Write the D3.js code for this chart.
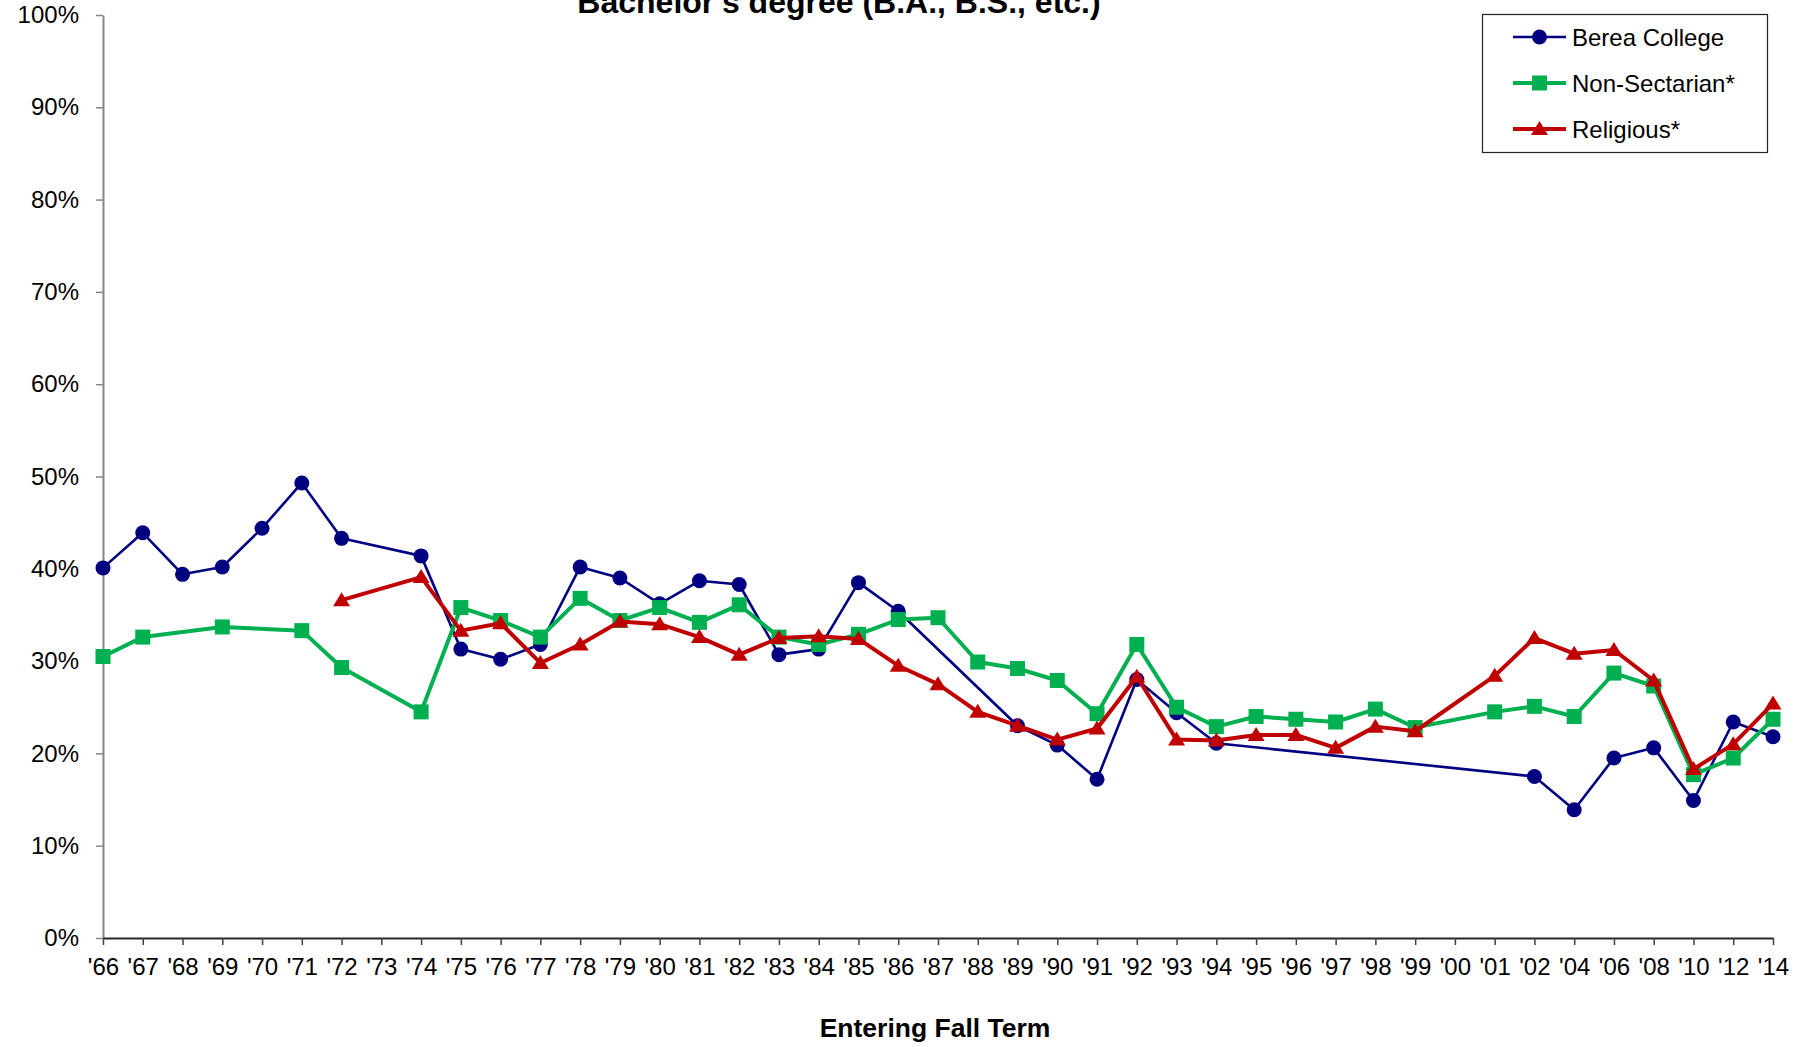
<!DOCTYPE html>
<html>
<head>
<meta charset="utf-8">
<script src="https://cdn.jsdelivr.net/npm/d3@7"></script>
<style>
  html, body { margin: 0; padding: 0; background: #fff; }
  svg { display: block; font-family: "Liberation Sans", Arial, sans-serif; }
</style>
</head>
<body>
<svg id="chart" width="1810" height="1047"></svg>
<script>
const categories = ["'66","'67","'68","'69","'70","'71","'72","'73","'74","'75","'76","'77","'78","'79","'80","'81","'82","'83","'84","'85","'86","'87","'88","'89","'90","'91","'92","'93","'94","'95","'96","'97","'98","'99","'00","'01","'02","'04","'06","'08","'10","'12","'14"];

const bereaCollege = [40.1,43.9,39.4,40.2,44.4,49.3,43.3,null,41.4,31.3,30.2,31.8,40.2,39.0,36.2,38.7,38.3,30.7,31.3,38.5,35.4,null,null,23.0,20.9,17.2,28.0,24.4,21.1,null,null,null,null,null,null,null,17.5,13.9,19.5,20.6,14.9,23.4,21.8];

const nonSectarian = [30.5,32.6,null,33.7,null,33.3,29.3,null,24.5,35.8,34.4,32.6,36.8,34.4,35.8,34.2,36.1,32.6,31.8,32.9,34.5,34.7,29.9,29.2,27.9,24.3,31.8,25.0,22.9,24.0,23.7,23.4,24.8,22.8,null,24.5,25.1,24.0,28.7,27.3,17.7,19.5,23.7];

const religious = [null,null,null,null,null,null,36.6,null,39.1,33.3,34.1,29.8,31.8,34.3,34.0,32.6,30.7,32.5,32.7,32.4,29.5,27.5,24.5,23.0,21.5,22.7,28.3,21.5,21.4,22.0,22.0,20.6,22.9,22.4,null,28.4,32.5,30.8,31.2,27.9,18.3,21.0,25.4];

const seriesNames = ["Berea College","Non-Sectarian*","Religious*"];
const seriesColors = ["#000080","#00B050","#C00000"];
const yTicks = [0,10,20,30,40,50,60,70,80,90,100];

const titleText = "Bachelor's degree (B.A., B.S., etc.)";
const xTitleText = "Entering Fall Term";

const svg = d3.select("#chart");
const x = d3.scalePoint().domain(categories).range([103, 1773]);
const y = d3.scaleLinear().domain([0, 100]).range([938, 15]);

// Y axis
const yAxis = svg.append("g")
  .attr("transform", "translate(103,0)")
  .call(d3.axisLeft(y).tickValues(yTicks).tickFormat(d => d + "%").tickSize(7).tickSizeOuter(0).tickPadding(17));
yAxis.select(".domain").attr("stroke", "#868686").attr("stroke-width", 2);
yAxis.selectAll(".tick line").attr("stroke", "#868686").attr("stroke-width", 1.5);
yAxis.selectAll(".tick text").attr("font-size", 24).attr("fill", "#000")
  .attr("font-family", "Liberation Sans, Arial, sans-serif");

// X axis
const xAxis = svg.append("g")
  .attr("transform", "translate(0,938)")
  .call(d3.axisBottom(x).tickSize(7).tickSizeOuter(0).tickPadding(13));
xAxis.select(".domain").attr("stroke", "#262626").attr("stroke-width", 2);
xAxis.selectAll(".tick line").attr("stroke", "#404040").attr("stroke-width", 1.5);
xAxis.selectAll(".tick text").attr("font-size", 24).attr("fill", "#000")
  .attr("font-family", "Liberation Sans, Arial, sans-serif");

// Titles
svg.append("text").attr("x", 839).attr("y", 13).attr("text-anchor", "middle")
  .attr("font-size", 32).attr("font-weight", "bold").attr("fill", "#000").text(titleText);
svg.append("text").attr("x", 935).attr("y", 1037).attr("text-anchor", "middle")
  .attr("font-size", 26.5).attr("font-weight", "bold").attr("fill", "#000").text(xTitleText);

// Markers
function marker(g, type, cx, cy, color) {
  if (type === 0) {
    g.append("circle").attr("cx", cx).attr("cy", cy).attr("r", 7.5).attr("fill", color);
  } else if (type === 1) {
    g.append("rect").attr("x", cx - 7.5).attr("y", cy - 7.5).attr("width", 15).attr("height", 15).attr("fill", color);
  } else {
    g.append("path").attr("d", `M${cx},${cy - 8}L${cx + 8.5},${cy + 6}L${cx - 8.5},${cy + 6}Z`).attr("fill", color);
  }
}

const allSeries = [bereaCollege, nonSectarian, religious];
const widths = [2.6, 4, 4];
const line = d3.line().x(d => x(d.c)).y(d => y(d.v));

allSeries.forEach((vals, si) => {
  const pts = categories.map((c, i) => ({ c, v: vals[i] })).filter(d => d.v !== null);
  const g = svg.append("g");
  g.append("path").datum(pts).attr("d", line).attr("fill", "none")
    .attr("stroke", seriesColors[si]).attr("stroke-width", widths[si]).attr("stroke-linejoin", "round");
  pts.forEach(d => marker(g, si, x(d.c), y(d.v), seriesColors[si]));
});

// Legend
const lg = svg.append("g");
lg.append("rect").attr("x", 1482.5).attr("y", 14.5).attr("width", 285).attr("height", 138)
  .attr("fill", "#fff").attr("stroke", "#222").attr("stroke-width", 1.2);
const rowsY = [37, 83, 129];
seriesNames.forEach((name, i) => {
  lg.append("line").attr("x1", 1513).attr("x2", 1566).attr("y1", rowsY[i]).attr("y2", rowsY[i])
    .attr("stroke", seriesColors[i]).attr("stroke-width", widths[i]);
  marker(lg, i, 1539.5, rowsY[i], seriesColors[i]);
  lg.append("text").attr("x", 1572).attr("y", rowsY[i]).attr("dy", "0.36em")
    .attr("font-size", 24).attr("fill", "#000").text(name);
});
</script>
</body>
</html>
